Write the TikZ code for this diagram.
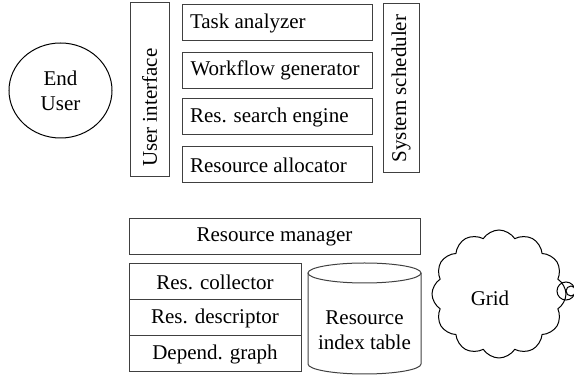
\documentclass[tikz,border=0pt]{standalone}
\usepackage{fontspec}
\IfFontExistsTF{Liberation Serif}{\setmainfont{Liberation Serif}}{\setmainfont{DejaVu Serif}}
\usepackage{tikz}
\usetikzlibrary{positioning,shapes.geometric,shapes.symbols}
\definecolor{edgegray}{gray}{0.25}
\newcommand{\diagfont}{\rmfamily\fontsize{10.5}{12.6}\selectfont}
\tikzset{
  every picture/.append style={font=\diagfont},
  actor/.style    = {ellipse, draw=black, line width=0.5pt,
                     minimum width=51.5pt, minimum height=47.5pt,
                     inner sep=0pt, align=center},
  sidebar/.style  = {draw=edgegray, line width=0.5pt, rotate=90,
                     minimum height=18pt, inner sep=0pt},
  modbox/.style   = {draw=edgegray, line width=0.5pt, text width=87pt,
                     align=flush left, inner xsep=4pt, inner ysep=0pt,
                     minimum height=18pt},
  stackbox/.style = {draw=edgegray, line width=0.5pt, inner sep=0pt,
                     minimum width=86pt, minimum height=18pt},
  wolke/.style    = {cloud, draw=black, line width=0.5pt, cloud puffs=12,
                     cloud puff arc=115, minimum width=67pt,
                     minimum height=64pt, cloud ignores aspect},
}

\begin{document}
\begin{tikzpicture}[x=0.5pt,y=0.5pt]
  \useasboundingbox (0,0) rectangle (574,375);
  % front end
  \node[actor] (enduser) at (60.5,284.5) {End\\User};
  \node[sidebar, minimum height=19.5pt, text width=77pt, inner xsep=5pt,
        align=flush left] (ui) at (149.5,285) {User interface};
  \node[modbox] (task)  at (277,352)   {Task analyzer};
  \node[modbox] (wflow) at (277.5,304.5) {Workflow generator};
  \node[modbox] (search) at (277,258)  {Res. search engine};
  \node[modbox] (alloc) at (277,210)   {Resource allocator};
  \node[sidebar, minimum width=84.5pt] (sched) at (401,286.5) {System scheduler};
  % resource layer
  \node[stackbox, minimum width=145.5pt] (manager) at (274.5,138) {Resource manager};
  \node[stackbox] (collect) at (215,93)  {Res. collector};
  \node[stackbox] (descr)   at (215,57)  {Res. descriptor};
  \node[stackbox] (depend)  at (215,21)  {Depend. graph};
  % index table as a drum
  \draw[edgegray, line width=0.5pt]
    (308,102) -- (308,11) arc[start angle=180, end angle=360,
      x radius=56.5, y radius=10] -- (421,102);
  \draw[edgegray, line width=0.5pt] (364.5,102) ellipse[x radius=56.5, y radius=10];
  \node[align=center, inner sep=0pt] (index) at (364.5,45) {Resource\\index table};
  % grid
  \node[wolke] (grid) at (499,81) {};
  \node[inner sep=0pt] (gridtxt) at (490,77) {Grid};
  \draw[black, line width=0.5pt] (566,84) circle[radius=9];
  \draw[black, line width=0.5pt] (571,84) circle[radius=5];
\end{tikzpicture}
\end{document}
